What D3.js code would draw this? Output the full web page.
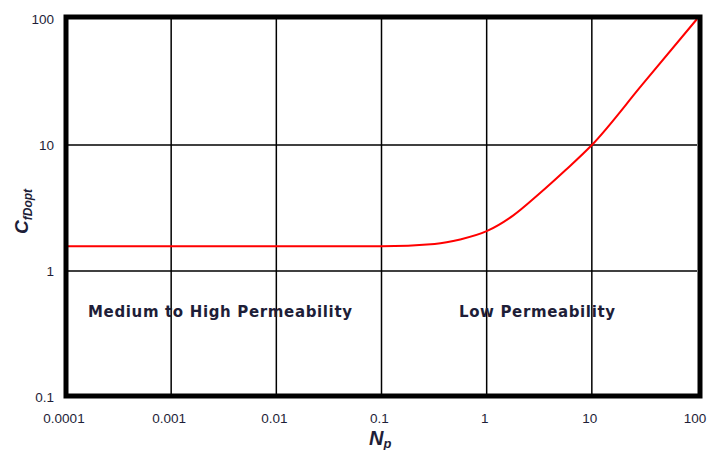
<!DOCTYPE html>
<html>
<head>
<meta charset="utf-8">
<script src="https://cdn.jsdelivr.net/npm/d3@7"></script>
<style>
  html, body { margin: 0; padding: 0; background: #fff; }
  svg { display: block; }
  text { font-family: "Liberation Sans", Arial, sans-serif; fill: #1e1e38; }
</style>
</head>
<body>
<svg id="chart" width="711" height="450"></svg>
<script>
// ---- data ----
const xTicks = [0.0001, 0.001, 0.01, 0.1, 1, 10, 100];
const xTickLabels = ["0.0001", "0.001", "0.01", "0.1", "1", "10", "100"];
const yTicks = [0.1, 1, 10, 100];
const yTickLabels = ["0.1", "1", "10", "100"];
const np  = [0.0001, 0.001, 0.01, 0.1, 0.32, 0.56, 1, 1.78, 3.16, 5.6, 10, 30, 100];
const cfd = [1.57, 1.57, 1.57, 1.57, 1.64, 1.78, 2.07, 2.75, 4.1, 6.3, 10, 30, 100];
const regionLabels = ["Medium to High Permeability", "Low Permeability"];

// ---- layout ----
const svg = d3.select("#chart");
const x = d3.scaleLog().domain([0.0001, 100]).range([66, 697]);
const y = d3.scaleLog().domain([0.1, 100]).range([397, 19]);

// grid lines
const grid = svg.append("g");
grid.selectAll("line.v").data(xTicks.slice(1, -1)).join("line")
  .attr("x1", d => x(d)).attr("x2", d => x(d))
  .attr("y1", y(100)).attr("y2", y(0.1))
  .attr("stroke", "#000").attr("stroke-width", 1.5);
grid.selectAll("line.h").data(yTicks.slice(1, -1)).join("line")
  .attr("y1", d => y(d)).attr("y2", d => y(d))
  .attr("x1", x(0.0001)).attr("x2", x(100))
  .attr("stroke", "#000").attr("stroke-width", 1.5);

// curve
const line = d3.line()
  .x((d, i) => x(np[i]))
  .y((d, i) => y(cfd[i]))
  .curve(d3.curveMonotoneX);
svg.append("path")
  .attr("d", line(np))
  .attr("fill", "none")
  .attr("stroke", "#ff0000")
  .attr("stroke-width", 2);

// frame
svg.append("rect")
  .attr("x", x(0.0001)).attr("y", y(100) - 2)
  .attr("width", x(100) - x(0.0001) + 3)
  .attr("height", y(0.1) - y(100) + 1)
  .attr("fill", "none").attr("stroke", "#000").attr("stroke-width", 5);

// x tick labels
svg.selectAll("text.xt").data(xTicks).join("text")
  .attr("x", d => x(d) - 2).attr("y", 423)
  .attr("text-anchor", "middle")
  .style("font-size", "13.5px")
  .text((d, i) => xTickLabels[i]);

// y tick labels
svg.selectAll("text.yt").data(yTicks).join("text")
  .attr("x", 54).attr("y", d => y(d) + 5)
  .attr("text-anchor", "end")
  .style("font-size", "13.5px")
  .text((d, i) => yTickLabels[i]);

// region labels, wide bold face fitted to the reference widths
function fitLabel(tx, ty, width, str) {
  const t = svg.append("text").attr("x", tx).attr("y", ty)
    .style("font-family", "'DejaVu Sans', Verdana, sans-serif")
    .style("font-weight", "bold").style("font-size", "10px").text(str);
  const w = t.node().getComputedTextLength();
  t.style("font-size", Math.min(15, 10 * width / w).toFixed(2) + "px")
   .attr("textLength", width).attr("lengthAdjust", "spacing");
}
fitLabel(88, 317, 264, regionLabels[0]);
fitLabel(459, 317, 156, regionLabels[1]);

// x axis title N_p
const xt = svg.append("text").attr("x", 369).attr("y", 445)
  .style("font-weight", "bold").style("font-style", "italic");
xt.append("tspan").style("font-size", "20px").text("N");
xt.append("tspan").style("font-size", "13px").attr("dy", 3).text("p");

// y axis title C_fDopt
const yt = svg.append("text")
  .attr("transform", "translate(28,234) rotate(-90)")
  .style("font-weight", "bold").style("font-style", "italic");
yt.append("tspan").style("font-size", "19px").text("C");
yt.append("tspan").style("font-size", "12px").attr("dy", 4).text("fDopt");
</script>
</body>
</html>
